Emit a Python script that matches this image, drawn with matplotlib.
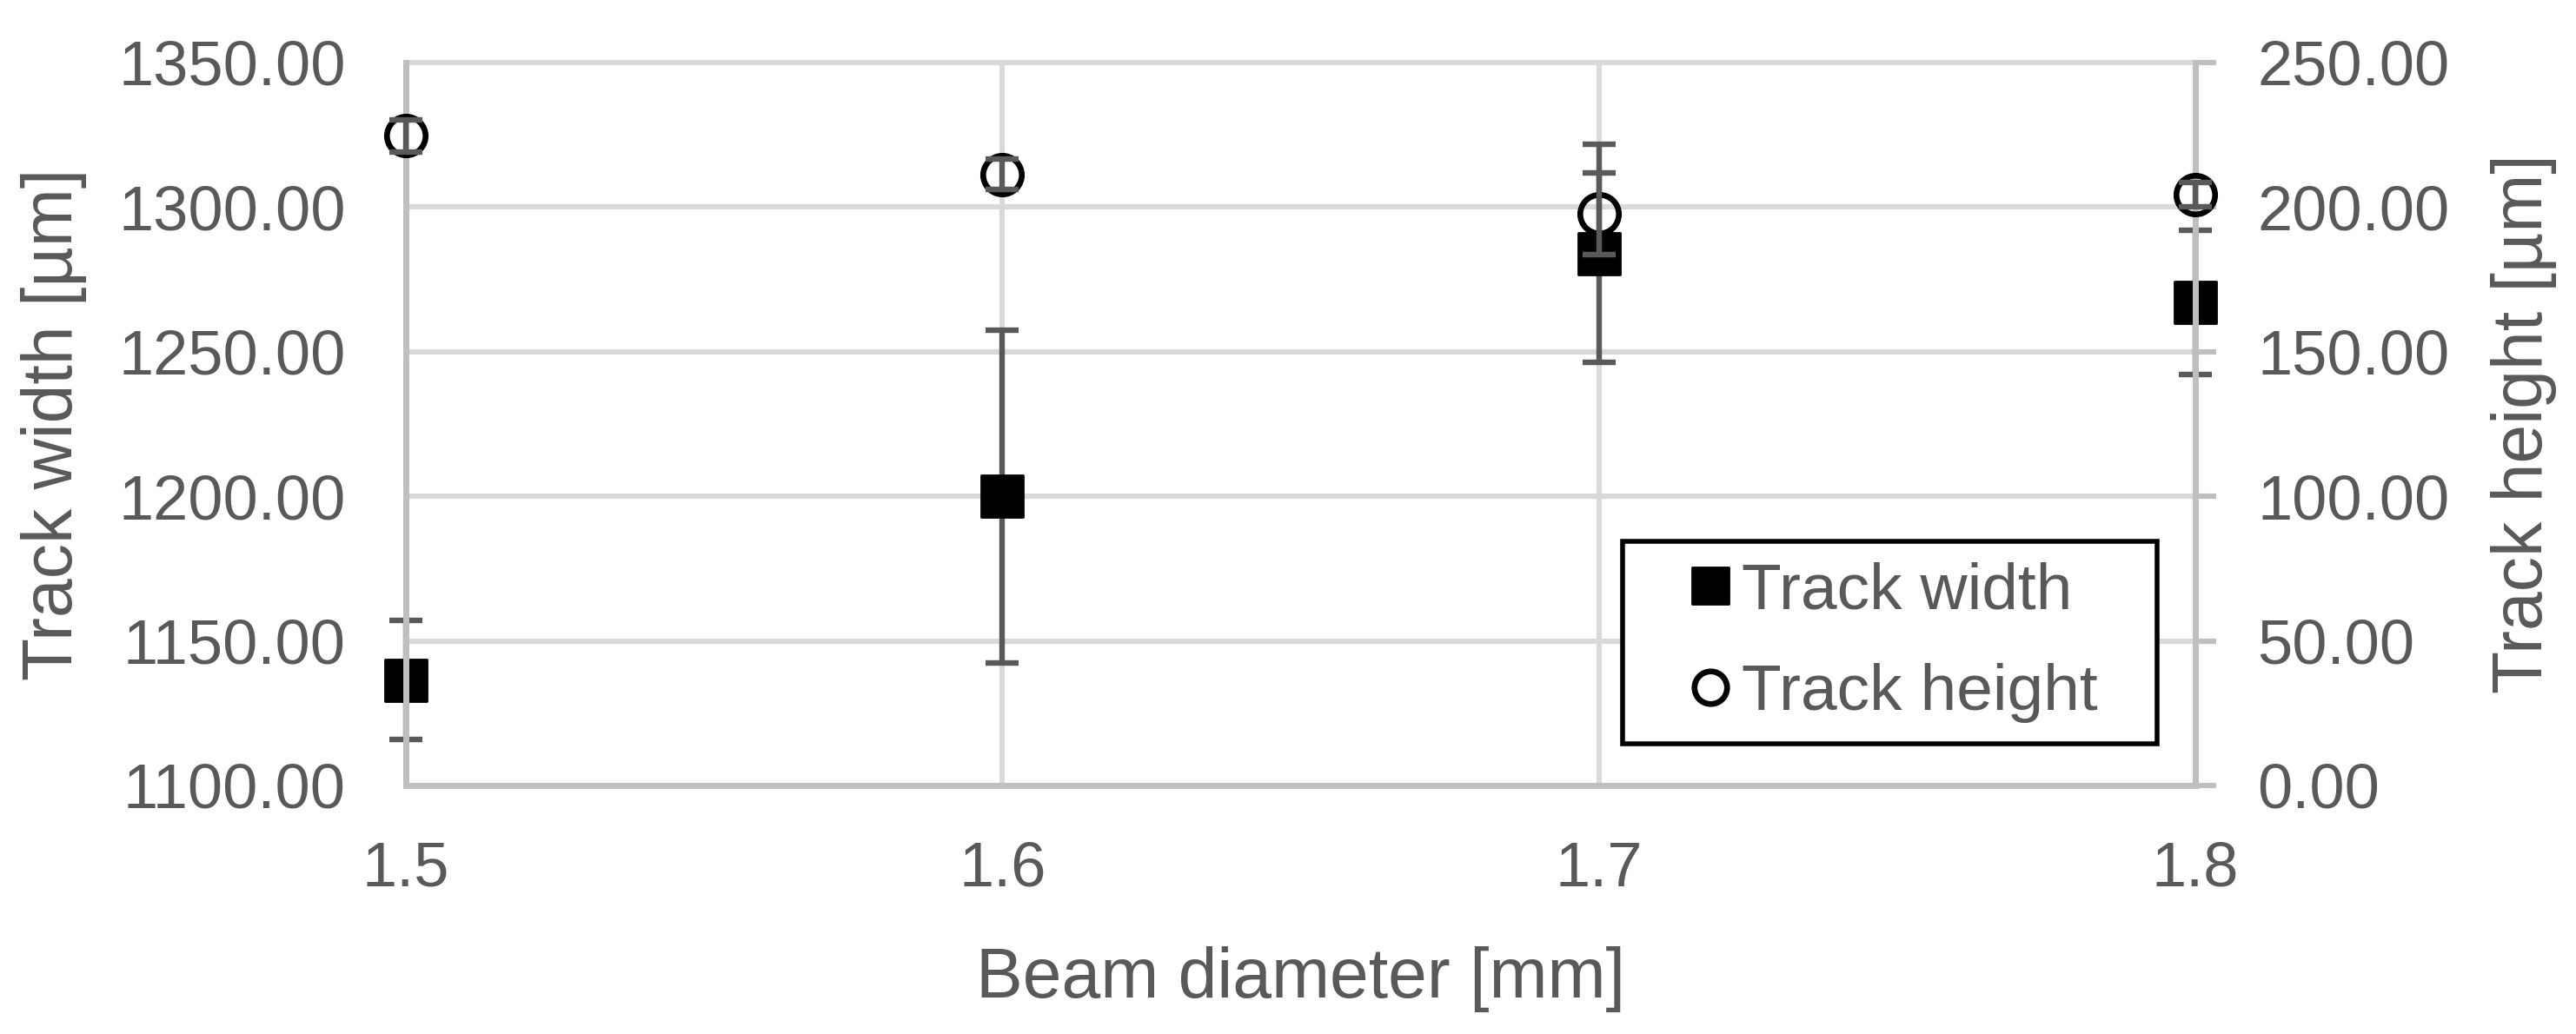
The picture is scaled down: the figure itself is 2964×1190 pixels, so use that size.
import matplotlib
matplotlib.use("Agg")
import matplotlib.pyplot as plt
from matplotlib.lines import Line2D
from matplotlib.markers import MarkerStyle

# ---- data ----
beam_diameter = [1.5, 1.6, 1.7, 1.8]
track_width = [1136.5, 1200.0, 1284.0, 1267.0]
track_width_err = [20.5, 57.5, 37.7, 25.0]
track_height = [224.7, 211.3, 197.7, 204.3]
track_height_err = [5.6, 5.3, 14.0, 4.3]

x_ticks = [1.5, 1.6, 1.7, 1.8]
x_tick_labels = ["1.5", "1.6", "1.7", "1.8"]
width_ticks = [1100, 1150, 1200, 1250, 1300, 1350]
height_ticks = [0, 50, 100, 150, 200, 250]

TXT = "#595959"
GRID = "#d9d9d9"
AXC = "#bfbfbf"
ERRC = "#595959"

plt.rcParams["font.family"] = ["Liberation Sans", "DejaVu Sans"]

DPI = 200
fig = plt.figure(figsize=(2964 / DPI, 1190 / DPI), dpi=DPI)
L, R, B, T = 467 / 2964, 2526 / 2964, 1 - 904 / 1190, 1 - 72 / 1190
ax = fig.add_axes([L, B, R - L, T - B])
ax2 = ax.twinx()

ax.set_xlim(1.5, 1.8)
ax.set_ylim(1100, 1350)
ax2.set_ylim(0, 250)

# grid
for v in width_ticks:
    ax.axhline(v, color=GRID, lw=2.2, zorder=0, clip_on=False)
ax.set_xticks(x_ticks)
ax.set_xticklabels(x_tick_labels)
ax.xaxis.grid(True, color=GRID, lw=2.2, zorder=0)
ax.set_axisbelow(True)

ax.set_yticks(width_ticks)
ax.set_yticklabels([f"{v:.2f}" for v in width_ticks])
ax2.set_yticks(height_ticks)
ax2.set_yticklabels([f"{v:.2f}" for v in height_ticks])

for a in (ax, ax2):
    a.spines["top"].set_visible(False)
    for s in ("left", "right", "bottom"):
        a.spines[s].set_color(AXC)
        a.spines[s].set_linewidth(2.5)
        a.spines[s].set_zorder(0.5)

ax.tick_params(axis="y", length=0, pad=25, labelsize=26, labelcolor=TXT)
ax.tick_params(axis="x", length=0, pad=23, labelsize=26, labelcolor=TXT)
ax2.tick_params(axis="y", direction="out", length=8.6, width=2.2, color=AXC,
                pad=17, labelsize=26, labelcolor=TXT)

sq = MarkerStyle("s", joinstyle="round")

# width series (left axis)
ax.errorbar(beam_diameter, track_width, yerr=track_width_err, fmt="none",
            ecolor=ERRC, elinewidth=2.3, capsize=7, capthick=2.3,
            clip_on=False, zorder=3)
ax.plot(beam_diameter, track_width, linestyle="none", marker=sq, ms=17.5,
        mfc="black", mec="black", mew=1, clip_on=False, zorder=4)

# height series (right axis)
ax2.plot(beam_diameter, track_height, linestyle="none", marker="o", ms=16,
         mfc="none", mec="black", mew=2.4, clip_on=False, zorder=4)
ax2.errorbar(beam_diameter, track_height, yerr=track_height_err, fmt="none",
             ecolor=ERRC, elinewidth=2.3, capsize=7, capthick=2.3,
             clip_on=False, zorder=5)

ax.set_xlabel("Beam diameter [mm]", fontsize=29, color=TXT)
ax.set_ylabel("Track width [µm]", fontsize=29, color=TXT)
ax2.set_ylabel("Track height [µm]", fontsize=29, color=TXT)
ax.xaxis.set_label_coords(0.5, -0.222)
ax.yaxis.set_label_coords(-0.178, 0.5)
ax2.yaxis.set_label_coords(1.165, 0.5)

handles = [
    Line2D([], [], linestyle="none", marker=sq, ms=15, mfc="black", mec="black", mew=1),
    Line2D([], [], linestyle="none", marker="o", ms=13.5, mfc="none", mec="black", mew=2.4),
]
leg = ax2.legend(handles, ["Track width", "Track height"], loc="lower left",
                 bbox_to_anchor=(0.680, 0.0577, 0.2987, 0.2), mode="expand",
                 fontsize=27, frameon=True,
                 fancybox=False, edgecolor="black", framealpha=1,
                 handlelength=2.04, handletextpad=-0.54, labelspacing=0.63,
                 borderpad=0.32, borderaxespad=0)
leg.get_frame().set_linewidth(2.0)
for t in leg.get_texts():
    t.set_color(TXT)
leg.set_zorder(10)

fig.savefig("out.png", dpi=DPI, facecolor="white")
